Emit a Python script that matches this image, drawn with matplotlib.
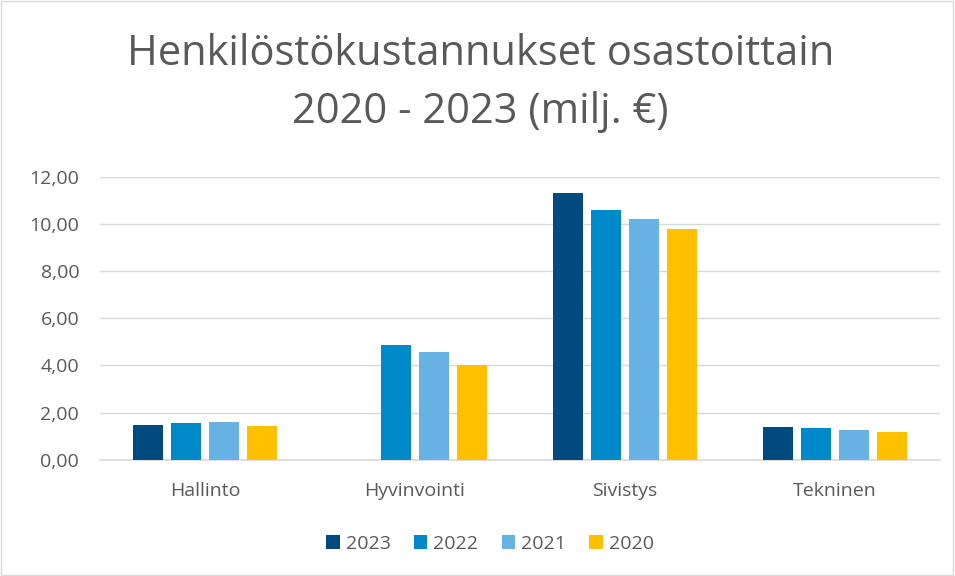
import numpy as np
import matplotlib.pyplot as plt
from matplotlib.patches import Rectangle

categories = ["Hallinto", "Hyvinvointi", "Sivistys", "Tekninen"]
years = ["2023", "2022", "2021", "2020"]
v2023 = [1.48, 0.0, 11.30, 1.40]
v2022 = [1.54, 4.85, 10.59, 1.34]
v2021 = [1.59, 4.56, 10.21, 1.26]
v2020 = [1.42, 4.02, 9.77, 1.17]
colors = ["#004A80", "#0089C9", "#67B2E2", "#FFC000"]

plt.rcParams['font.family'] = ['Open Sans', 'DejaVu Sans']

fig = plt.figure(figsize=(9.55, 5.76), dpi=100)
ax = fig.add_axes([0.1047, 0.2019, 0.8796, 0.4913])

x = np.arange(len(categories))
width = 0.143
step = 0.181
series = [v2023, v2022, v2021, v2020]
for i, (vals, year, col) in enumerate(zip(series, years, colors)):
    ax.bar(x + (i - 1.5) * step, vals, width, color=col, label=year, zorder=3)

ax.set_xlim(-0.5, 3.5)
ax.set_ylim(0, 12)
ax.set_yticks(np.arange(0, 13, 2))
ax.set_yticklabels([f"{v:.2f}".replace(".", ",") for v in np.arange(0, 13, 2)])
ax.set_xticks(x)
ax.set_xticklabels(categories)
ax.tick_params(length=0, labelsize=14, colors="#595959")
ax.tick_params(axis="x", pad=16)
ax.tick_params(axis="y", pad=15)
ax.grid(axis="y", color="#D9D9D9", linewidth=1, zorder=0)
for s in ["top", "right", "left"]:
    ax.spines[s].set_visible(False)
ax.spines["bottom"].set_color("#D9D9D9")
ax.spines["bottom"].set_linewidth(1.2)

# otsikko kahdella rivillä
fig.text(0.503, 0.8872, "Henkilöstökustannukset osastoittain",
         ha="center", va="baseline", fontsize=30, color="#595959")
fig.text(0.503, 0.7865, "2020 - 2023 (milj. €)",
         ha="center", va="baseline", fontsize=30, color="#595959")

ax.legend(loc="center", bbox_to_anchor=(0.513, 0.0556), bbox_transform=fig.transFigure,
          ncol=4, frameon=False, fontsize=14, labelcolor="#595959",
          handlelength=0.7, handleheight=0.7, handletextpad=0.3, columnspacing=1.2)

fig.patches.append(Rectangle((0.001, 0.001), 0.997, 0.997, transform=fig.transFigure,
                             fill=False, edgecolor="#D9D9D9", linewidth=1))

fig.savefig("out.png", dpi=100)
